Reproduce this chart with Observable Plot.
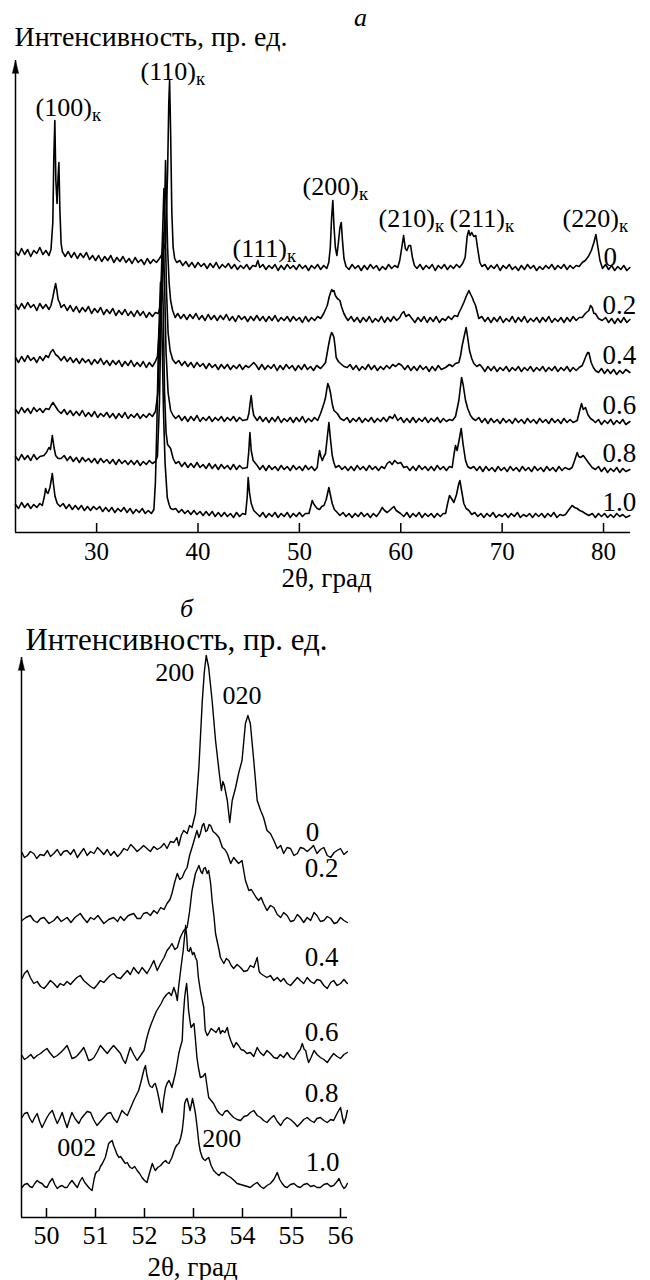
<!DOCTYPE html>
<html><head><meta charset="utf-8">
<script src="https://cdn.jsdelivr.net/npm/d3@7"></script>
<script src="https://cdn.jsdelivr.net/npm/@observablehq/plot@0.6"></script>
<style>
body{margin:0;background:#fff;}
#wrap{position:relative;width:650px;height:1280px;background:#fff;}
#pa{position:absolute;left:0;top:0;}
#pb{position:absolute;left:0;top:600px;}
svg, svg text, svg tspan{font-family:"Liberation Serif","Tinos","Times New Roman","Noto Serif","DejaVu Serif",serif !important;}
</style></head><body><div id="wrap"><div id="pa"></div><div id="pb"></div></div>
<script>
// ---------- shared ----------
const compositions = ["0", "0.2", "0.4", "0.6", "0.8", "1.0"];
const ticksA = [30, 40, 50, 60, 70, 80];
const ticksB = [50, 51, 52, 53, 54, 55, 56];

// ---------- panel a: 2θ (deg), intensity (arb. units) ----------
const xrdA_0 = [[22.0,281],[22.3,277],[22.6,284],[22.9,278],[23.2,283],[23.5,276],[23.8,282],[24.1,279],[24.4,285],[24.7,278],[25.0,282],[25.3,277],[25.5,283],[25.68,310],[25.78,375],[25.88,412],[25.98,352],[26.1,329],[26.2,356],[26.28,370],[26.38,322],[26.5,289],[26.62,281],[26.9,276],[27.2,281],[27.5,275],[27.8,280],[28.1,274],[28.4,279],[28.7,275],[29.0,280],[29.3,273],[29.6,277],[29.9,272],[30.2,277],[30.5,271],[30.8,276],[31.1,272],[31.4,277],[31.7,270],[32.0,275],[32.3,271],[32.6,276],[32.9,270],[33.2,274],[33.5,269],[33.8,275],[34.1,270],[34.4,273],[34.7,268],[35.0,274],[35.3,269],[35.6,273],[35.9,270],[36.2,274],[36.5,279],[36.8,290],[37.0,360],[37.12,430],[37.2,452],[37.3,400],[37.42,320],[37.55,285],[37.7,274],[37.9,270],[38.2,272],[38.5,267],[38.8,271],[39.1,266],[39.4,270],[39.7,265],[40.0,270],[40.3,266],[40.6,269],[40.9,264],[41.2,269],[41.5,265],[41.8,270],[42.1,264],[42.4,268],[42.7,265],[43.0,269],[43.3,264],[43.6,268],[43.9,263],[44.2,267],[44.5,264],[44.8,268],[45.1,263],[45.4,267],[45.7,266],[45.9,272],[46.1,265],[46.4,268],[46.7,263],[47.0,267],[47.3,264],[47.6,268],[47.9,262],[48.2,267],[48.5,263],[48.8,268],[49.1,264],[49.4,267],[49.7,263],[50.0,268],[50.3,264],[50.6,267],[50.9,262],[51.2,267],[51.5,264],[51.8,268],[52.1,263],[52.4,267],[52.7,264],[52.9,270],[53.05,285],[53.18,315],[53.3,332],[53.42,305],[53.55,285],[53.7,277],[53.85,290],[54.0,305],[54.13,310],[54.25,292],[54.4,274],[54.6,266],[54.9,263],[55.2,268],[55.5,264],[55.8,267],[56.1,262],[56.4,267],[56.7,263],[57.0,268],[57.3,264],[57.6,267],[57.9,262],[58.2,266],[58.5,263],[58.8,268],[59.1,264],[59.4,267],[59.7,265],[59.9,272],[60.1,285],[60.28,297],[60.45,284],[60.6,282],[60.8,287],[60.97,287],[61.15,275],[61.35,267],[61.6,264],[61.9,268],[62.2,263],[62.5,267],[62.8,264],[63.1,268],[63.4,262],[63.7,267],[64.0,264],[64.3,268],[64.6,263],[64.9,267],[65.2,264],[65.5,268],[65.8,265],[66.1,269],[66.35,275],[66.55,296],[66.7,302],[66.85,297],[67.0,300],[67.2,296],[67.4,297],[67.6,283],[67.8,270],[68.0,266],[68.3,268],[68.6,263],[68.9,267],[69.2,264],[69.5,268],[69.8,262],[70.1,267],[70.4,264],[70.7,268],[71.0,263],[71.3,266],[71.6,262],[71.9,267],[72.2,263],[72.5,268],[72.8,264],[73.1,267],[73.4,262],[73.7,266],[74.0,263],[74.3,267],[74.6,264],[74.9,268],[75.2,263],[75.5,267],[75.8,264],[76.1,268],[76.4,263],[76.7,267],[77.0,264],[77.3,267],[77.6,266],[77.9,270],[78.2,272],[78.5,276],[78.8,282],[79.05,290],[79.25,298],[79.45,285],[79.65,272],[79.9,264],[80.2,268],[80.5,263],[80.8,267],[81.1,262],[81.4,266],[81.7,263],[82.0,267],[82.3,262],[82.6,265]];

const xrdA_02 = [[22.0,228],[22.3,223],[22.6,229],[22.9,224],[23.2,230],[23.5,225],[23.8,228],[24.1,222],[24.4,229],[24.7,224],[25.0,228],[25.3,223],[25.5,227],[25.7,236],[25.85,244],[25.96,249],[26.08,242],[26.2,233],[26.35,230],[26.5,225],[26.8,228],[27.1,222],[27.4,227],[27.7,221],[28.0,226],[28.3,220],[28.6,225],[28.9,221],[29.2,226],[29.5,219],[29.8,224],[30.1,220],[30.4,225],[30.7,218],[31.0,223],[31.3,219],[31.6,224],[31.9,217],[32.2,222],[32.5,218],[32.8,223],[33.1,217],[33.4,221],[33.7,216],[34.0,222],[34.3,217],[34.6,221],[34.9,215],[35.2,220],[35.5,216],[35.8,220],[36.1,219],[36.4,232],[36.6,270],[36.72,330],[36.8,372],[36.9,330],[37.0,285],[37.15,250],[37.3,232],[37.5,222],[37.75,215],[38.0,219],[38.3,214],[38.6,218],[38.9,213],[39.2,218],[39.5,214],[39.8,219],[40.1,213],[40.4,217],[40.7,212],[41.0,218],[41.3,213],[41.6,217],[41.9,212],[42.2,217],[42.5,213],[42.8,218],[43.1,212],[43.4,216],[43.7,211],[44.0,217],[44.3,213],[44.6,216],[44.9,211],[45.2,216],[45.5,212],[45.8,217],[46.1,212],[46.4,216],[46.7,211],[47.0,216],[47.3,212],[47.6,217],[47.9,211],[48.2,215],[48.5,212],[48.8,216],[49.1,211],[49.4,216],[49.7,212],[50.0,215],[50.3,210],[50.6,216],[50.9,211],[51.2,215],[51.5,212],[51.8,216],[52.1,214],[52.4,219],[52.75,227],[52.95,236],[53.08,240],[53.2,243],[53.3,241],[53.41,242],[53.55,237],[53.74,234],[53.88,233],[54.0,232],[54.15,226],[54.39,219],[54.6,215],[54.8,212],[55.1,216],[55.4,211],[55.7,215],[56.0,210],[56.3,215],[56.6,211],[56.9,216],[57.2,210],[57.5,214],[57.8,211],[58.1,216],[58.4,210],[58.7,215],[59.0,211],[59.3,216],[59.6,212],[59.9,215],[60.1,219],[60.3,221],[60.5,216],[60.8,218],[61.1,214],[61.4,210],[61.7,215],[62.0,211],[62.3,216],[62.6,210],[62.9,215],[63.2,211],[63.5,216],[63.8,210],[64.1,214],[64.4,212],[64.7,216],[65.0,213],[65.3,217],[65.6,216],[65.75,220],[65.95,224],[66.22,230],[66.45,236],[66.72,242],[66.9,238],[67.05,235],[67.2,231],[67.38,227],[67.55,220],[67.7,214],[68.0,216],[68.3,211],[68.6,215],[68.9,210],[69.2,215],[69.5,211],[69.8,216],[70.1,210],[70.4,214],[70.7,211],[71.0,216],[71.3,210],[71.6,215],[71.9,211],[72.2,216],[72.5,210],[72.8,214],[73.1,211],[73.4,215],[73.7,210],[74.0,215],[74.3,211],[74.6,216],[74.9,210],[75.2,214],[75.5,211],[75.8,215],[76.1,210],[76.4,215],[76.7,211],[77.0,216],[77.3,212],[77.6,215],[77.9,215],[78.2,219],[78.55,222],[78.72,227],[78.88,225],[79.05,219],[79.2,219],[79.5,214],[79.87,212],[80.2,215],[80.5,210],[80.8,214],[81.1,209],[81.4,214],[81.7,210],[82.0,215],[82.3,210],[82.6,213]];

const xrdA_04 = [[22.0,175],[22.3,170],[22.6,176],[22.9,171],[23.2,177],[23.5,172],[23.8,175],[24.1,170],[24.4,176],[24.7,172],[25.0,177],[25.25,175],[25.45,180],[25.7,183],[25.95,178],[26.2,176],[26.5,172],[26.8,176],[27.1,171],[27.4,175],[27.7,170],[28.0,174],[28.3,169],[28.6,174],[28.9,170],[29.2,173],[29.5,168],[29.8,173],[30.1,169],[30.4,174],[30.7,168],[31.0,172],[31.3,167],[31.6,172],[31.9,168],[32.2,172],[32.5,166],[32.8,171],[33.1,167],[33.4,172],[33.7,166],[34.0,170],[34.3,166],[34.6,171],[34.9,165],[35.2,170],[35.5,166],[35.8,171],[36.0,176],[36.25,210],[36.45,280],[36.64,344],[36.78,300],[36.9,240],[37.05,200],[37.25,182],[37.5,173],[37.8,169],[38.1,172],[38.4,167],[38.7,171],[39.0,166],[39.3,170],[39.6,165],[39.9,170],[40.2,166],[40.5,169],[40.8,164],[41.1,169],[41.4,165],[41.7,168],[42.0,163],[42.3,168],[42.6,164],[42.9,168],[43.2,163],[43.5,167],[43.8,164],[44.1,168],[44.4,163],[44.7,167],[45.0,165],[45.3,168],[45.5,170],[45.75,167],[46.0,163],[46.3,168],[46.6,163],[46.9,167],[47.2,164],[47.5,168],[47.8,162],[48.1,167],[48.4,163],[48.7,168],[49.0,164],[49.3,167],[49.6,162],[49.9,167],[50.2,163],[50.5,168],[50.8,163],[51.1,166],[51.4,162],[51.7,167],[52.09,164],[52.35,167],[52.58,170],[52.75,180],[52.91,189],[53.05,196],[53.18,200],[53.3,198],[53.41,195],[53.52,186],[53.63,175],[53.85,171],[54.06,169],[54.4,166],[54.72,165],[55.0,168],[55.3,163],[55.6,167],[55.9,162],[56.2,166],[56.5,163],[56.8,168],[57.1,163],[57.4,167],[57.7,162],[58.0,166],[58.3,163],[58.6,167],[58.9,164],[59.2,168],[59.5,166],[59.8,169],[60.1,167],[60.4,163],[60.7,167],[61.0,162],[61.3,166],[61.6,162],[61.9,167],[62.2,163],[62.5,166],[62.8,161],[63.1,166],[63.4,162],[63.7,167],[64.0,163],[64.42,165],[64.8,168],[65.1,166],[65.4,169],[65.73,170],[65.9,177],[66.06,187],[66.25,196],[66.45,205],[66.6,195],[66.78,182],[67.0,174],[67.21,169],[67.5,166],[67.8,168],[68.04,165],[68.3,161],[68.6,166],[68.9,162],[69.2,166],[69.5,161],[69.8,165],[70.1,162],[70.4,166],[70.7,161],[71.0,165],[71.3,162],[71.6,166],[71.9,161],[72.2,165],[72.5,162],[72.8,166],[73.1,161],[73.4,165],[73.7,162],[74.0,166],[74.3,161],[74.6,165],[74.9,162],[75.2,166],[75.5,161],[75.8,165],[76.1,162],[76.4,166],[76.7,161],[77.0,165],[77.3,162],[77.6,165],[77.9,167],[78.1,172],[78.29,177],[78.45,180],[78.55,180],[78.78,170],[79.0,165],[79.2,162],[79.5,160],[79.8,164],[80.1,159],[80.4,163],[80.7,159],[81.0,163],[81.3,158],[81.6,162],[81.9,159],[82.2,163],[82.6,160]];

const xrdA_06 = [[22.0,123],[22.3,119],[22.6,125],[22.9,120],[23.2,124],[23.5,119],[23.8,125],[24.1,121],[24.4,124],[24.7,120],[25.0,124],[25.3,123],[25.5,127],[25.7,130],[25.95,126],[26.2,122],[26.5,119],[26.8,123],[27.1,118],[27.4,122],[27.7,117],[28.0,121],[28.3,117],[28.6,122],[28.9,116],[29.2,120],[29.5,116],[29.8,121],[30.1,115],[30.4,119],[30.7,116],[31.0,120],[31.3,115],[31.6,119],[31.9,114],[32.2,119],[32.5,115],[32.8,120],[33.1,114],[33.4,118],[33.7,115],[34.0,119],[34.3,114],[34.6,118],[34.9,115],[35.2,119],[35.5,116],[35.8,121],[36.05,140],[36.3,210],[36.55,300],[36.7,250],[36.85,180],[37.05,140],[37.3,122],[37.55,117],[37.8,114],[38.1,117],[38.4,112],[38.7,116],[39.0,111],[39.3,116],[39.6,112],[39.9,117],[40.2,111],[40.5,115],[40.8,112],[41.1,116],[41.4,111],[41.7,115],[42.0,112],[42.3,116],[42.6,111],[42.9,115],[43.2,112],[43.5,116],[43.8,111],[44.1,115],[44.4,112],[44.86,113],[45.02,119],[45.15,130],[45.25,137],[45.38,124],[45.5,117],[45.84,112],[46.1,116],[46.4,111],[46.7,115],[47.0,110],[47.3,115],[47.6,111],[47.9,116],[48.2,110],[48.5,114],[48.8,111],[49.1,115],[49.4,110],[49.7,115],[50.0,111],[50.3,116],[50.6,110],[50.9,114],[51.2,111],[51.5,115],[51.8,112],[52.09,119],[52.26,124],[52.45,130],[52.58,135],[52.7,143],[52.81,149],[52.95,145],[53.08,139],[53.25,128],[53.41,122],[53.74,119],[54.05,114],[54.39,112],[54.7,115],[55.0,110],[55.3,114],[55.6,111],[55.9,115],[56.2,110],[56.5,114],[56.8,111],[57.1,115],[57.4,110],[57.7,114],[58.0,111],[58.3,115],[58.6,111],[58.9,116],[59.2,114],[59.4,118],[59.7,112],[60.0,115],[60.3,110],[60.6,114],[60.9,110],[61.2,115],[61.5,110],[61.8,114],[62.1,111],[62.4,115],[62.7,110],[63.0,114],[63.3,111],[63.6,115],[63.9,110],[64.2,114],[64.5,111],[64.8,113],[65.1,112],[65.4,116],[65.73,132],[65.88,145],[66.0,155],[66.15,148],[66.39,132],[66.6,124],[66.88,117],[67.1,114],[67.38,112],[67.7,115],[68.0,110],[68.3,114],[68.6,109],[68.9,114],[69.2,110],[69.5,113],[69.8,109],[70.1,114],[70.4,110],[70.7,113],[71.0,109],[71.3,114],[71.6,110],[71.9,113],[72.2,109],[72.5,114],[72.8,110],[73.1,113],[73.4,109],[73.7,114],[74.0,110],[74.3,113],[74.6,109],[74.9,114],[75.2,110],[75.5,113],[75.8,109],[76.1,114],[76.4,110],[76.7,113],[77.0,110],[77.4,112],[77.6,120],[77.83,129],[78.0,123],[78.22,125],[78.45,118],[78.72,114],[79.0,112],[79.2,110],[79.5,113],[79.8,108],[80.1,112],[80.4,109],[80.7,113],[81.0,108],[81.3,112],[81.6,109],[81.9,113],[82.2,108],[82.6,111]];

const xrdA_08 = [[22.0,76],[22.3,72],[22.6,78],[22.9,73],[23.2,77],[23.5,72],[23.8,78],[24.1,73],[24.4,76],[24.8,77],[25.05,80],[25.3,85],[25.45,83],[25.63,97],[25.8,85],[25.96,77],[26.2,74],[26.5,74],[26.8,77],[27.1,72],[27.4,76],[27.7,71],[28.0,75],[28.3,70],[28.6,75],[28.9,71],[29.2,74],[29.5,70],[29.8,74],[30.1,69],[30.4,74],[30.7,70],[31.0,73],[31.3,69],[31.6,73],[31.9,68],[32.2,73],[32.5,69],[32.8,72],[33.1,68],[33.4,72],[33.7,68],[34.0,72],[34.3,67],[34.6,71],[34.9,68],[35.2,72],[35.5,69],[35.8,71],[36.0,76],[36.2,130],[36.35,215],[36.45,270],[36.58,220],[36.7,140],[36.85,100],[37.0,88],[37.3,84],[37.55,74],[37.8,69],[38.1,71],[38.4,66],[38.7,70],[39.0,65],[39.3,69],[39.6,65],[39.9,70],[40.2,65],[40.5,68],[40.8,64],[41.1,69],[41.4,64],[41.7,68],[42.0,63],[42.3,68],[42.6,64],[42.9,67],[43.2,63],[43.5,68],[43.8,63],[44.1,67],[44.4,64],[44.86,65],[45.0,80],[45.12,100],[45.25,82],[45.44,72],[45.84,67],[46.1,63],[46.4,67],[46.7,62],[47.0,67],[47.3,63],[47.6,66],[47.9,62],[48.2,67],[48.5,63],[48.8,66],[49.1,62],[49.4,67],[49.7,63],[50.0,66],[50.3,62],[50.6,67],[50.9,63],[51.2,66],[51.5,62],[51.76,65],[51.88,75],[51.99,82],[52.12,76],[52.26,72],[52.42,76],[52.58,79],[52.75,95],[52.91,110],[53.05,95],[53.24,77],[53.4,70],[53.57,65],[53.9,67],[54.2,63],[54.5,66],[54.8,62],[55.1,66],[55.4,62],[55.7,67],[56.0,63],[56.3,66],[56.6,62],[56.9,67],[57.2,63],[57.5,66],[57.8,62],[58.1,66],[58.4,64],[58.66,69],[58.9,71],[59.15,68],[59.4,72],[59.7,69],[60.0,70],[60.3,65],[60.6,66],[60.9,62],[61.2,66],[61.5,62],[61.8,67],[62.1,63],[62.4,66],[62.7,62],[63.0,66],[63.3,62],[63.6,67],[63.9,63],[64.2,66],[64.5,62],[64.8,66],[65.07,65],[65.25,78],[65.4,87],[65.56,82],[65.75,92],[65.96,104],[66.15,88],[66.39,72],[66.6,66],[66.88,64],[67.2,66],[67.5,62],[67.8,66],[68.1,61],[68.4,66],[68.7,62],[69.0,65],[69.3,61],[69.6,66],[69.9,62],[70.2,65],[70.5,61],[70.8,66],[71.1,62],[71.4,65],[71.7,61],[72.0,66],[72.3,62],[72.6,65],[72.9,61],[73.2,66],[73.5,62],[73.8,65],[74.1,61],[74.4,66],[74.7,62],[75.0,65],[75.3,61],[75.6,66],[75.9,62],[76.2,65],[76.6,63],[76.9,65],[77.15,72],[77.4,80],[77.55,76],[77.73,75],[78.0,77],[78.22,74],[78.5,70],[78.88,65],[79.2,63],[79.5,66],[79.8,61],[80.1,65],[80.4,60],[80.7,64],[81.0,61],[81.3,65],[81.6,60],[81.9,64],[82.2,61],[82.6,63]];

const xrdA_10 = [[22.0,28],[22.3,24],[22.6,30],[22.9,25],[23.2,29],[23.5,24],[23.8,28],[24.1,25],[24.4,29],[24.64,27],[24.85,36],[24.97,44],[25.1,40],[25.2,39],[25.4,45],[25.55,54],[25.63,59],[25.75,48],[25.9,36],[26.12,29],[26.4,26],[26.7,29],[27.0,24],[27.3,28],[27.6,23],[27.9,27],[28.2,23],[28.5,27],[28.8,22],[29.1,26],[29.4,22],[29.7,26],[30.0,23],[30.3,26],[30.6,21],[30.9,25],[31.2,21],[31.5,25],[31.8,20],[32.1,24],[32.4,21],[32.7,25],[33.0,20],[33.3,24],[33.6,19],[33.9,23],[34.2,20],[34.5,24],[34.8,19],[35.1,22],[35.4,19],[35.65,23],[35.8,50],[35.95,110],[36.1,190],[36.3,250],[36.45,200],[36.6,120],[36.75,70],[36.97,35],[37.15,28],[37.3,24],[37.55,23],[37.8,24],[38.1,20],[38.4,23],[38.7,19],[39.0,22],[39.3,18],[39.6,22],[39.9,18],[40.2,21],[40.5,17],[40.8,21],[41.1,17],[41.4,21],[41.7,16],[42.0,20],[42.3,16],[42.6,20],[42.9,16],[43.2,19],[43.5,15],[43.8,20],[44.1,16],[44.4,19],[44.69,18],[44.85,35],[44.95,55],[45.08,40],[45.25,29],[45.5,22],[45.8,19],[46.1,16],[46.4,20],[46.7,15],[47.0,19],[47.3,16],[47.6,20],[47.9,15],[48.2,19],[48.5,16],[48.8,20],[49.1,15],[49.4,19],[49.7,16],[50.0,20],[50.3,16],[50.6,19],[50.94,19],[51.1,25],[51.27,32],[51.45,28],[51.6,26],[51.76,24],[52.0,23],[52.2,26],[52.42,27],[52.65,33],[52.8,40],[52.91,45],[53.05,38],[53.24,29],[53.45,23],[53.74,20],[54.0,17],[54.3,20],[54.6,16],[54.9,19],[55.2,15],[55.5,19],[55.8,16],[56.1,20],[56.4,16],[56.7,19],[57.0,15],[57.3,19],[57.6,16],[57.9,20],[58.17,25],[58.4,22],[58.66,20],[58.9,22],[59.1,24],[59.32,26],[59.55,22],[59.98,19],[60.3,16],[60.6,20],[60.9,15],[61.2,19],[61.5,16],[61.8,20],[62.1,15],[62.4,19],[62.7,16],[63.0,19],[63.3,15],[63.6,19],[63.9,16],[64.2,19],[64.42,19],[64.6,28],[64.81,37],[65.0,34],[65.24,30],[65.5,38],[65.7,48],[65.83,52],[66.0,42],[66.22,29],[66.45,24],[66.72,22],[67.0,18],[67.3,20],[67.6,16],[67.9,19],[68.2,15],[68.5,19],[68.8,16],[69.1,20],[69.4,15],[69.7,18],[70.0,16],[70.3,19],[70.6,15],[70.9,19],[71.2,16],[71.5,20],[71.8,15],[72.1,18],[72.4,16],[72.7,19],[73.0,15],[73.3,19],[73.6,16],[73.9,19],[74.2,15],[74.5,19],[74.8,16],[75.1,20],[75.4,15],[75.7,18],[76.0,17],[76.25,18],[76.6,23],[76.9,27],[77.15,25],[77.4,24],[77.65,22],[77.9,21],[78.2,19],[78.55,17],[78.9,19],[79.2,15],[79.5,19],[79.8,16],[80.1,19],[80.4,15],[80.7,18],[81.0,15],[81.3,19],[81.6,16],[81.9,18],[82.2,15],[82.6,17]];

// ---------- panel b ----------
const xrdB_0 = [[49.5,365],[49.55,360],[49.61,362],[49.67,366],[49.74,364],[49.8,359],[49.87,363],[49.95,362],[50.02,367],[50.08,361],[50.15,364],[50.22,368],[50.29,362],[50.35,366],[50.42,367],[50.49,363],[50.56,368],[50.63,360],[50.7,365],[50.76,369],[50.83,362],[50.9,366],[50.97,364],[51.04,370],[51.1,367],[51.17,363],[51.24,368],[51.31,362],[51.38,366],[51.45,361],[51.51,364],[51.58,369],[51.65,367],[51.72,373],[51.78,370],[51.85,366],[51.92,369],[51.98,372],[52.05,369],[52.12,366],[52.19,371],[52.26,368],[52.33,370],[52.4,374],[52.46,369],[52.53,376],[52.6,375],[52.66,380],[52.7,372],[52.75,382],[52.8,387],[52.87,384],[52.92,392],[52.97,390],[53.04,404],[53.11,450],[53.18,517],[53.22,545],[53.26,562],[53.31,550],[53.38,517],[53.45,477],[53.52,447],[53.57,427],[53.6,436],[53.63,432],[53.69,417],[53.74,395],[53.79,417],[53.86,430],[53.92,444],[53.99,457],[54.06,494],[54.11,502],[54.16,494],[54.23,457],[54.3,417],[54.37,407],[54.43,400],[54.5,387],[54.57,384],[54.64,377],[54.71,369],[54.78,372],[54.84,364],[54.91,370],[54.98,369],[55.05,362],[55.12,364],[55.18,370],[55.25,369],[55.32,366],[55.39,369],[55.45,372],[55.52,364],[55.59,368],[55.66,370],[55.73,362],[55.8,360],[55.87,365],[55.93,367],[56.0,369],[56.07,363],[56.14,366]];

const xrdB_02 = [[49.5,297],[49.58,300],[49.67,302],[49.74,297],[49.81,295],[49.88,299],[49.95,300],[50.05,294],[50.15,297],[50.22,301],[50.3,296],[50.42,300],[50.5,295],[50.58,300],[50.69,304],[50.76,299],[50.83,295],[50.9,300],[50.97,298],[51.05,302],[51.17,294],[51.27,298],[51.37,300],[51.45,296],[51.51,301],[51.58,297],[51.67,302],[51.78,304],[51.85,299],[51.92,299],[51.98,304],[52.05,305],[52.12,302],[52.19,307],[52.26,304],[52.33,310],[52.4,308],[52.46,314],[52.52,318],[52.56,324],[52.62,336],[52.67,344],[52.72,338],[52.77,340],[52.82,346],[52.87,350],[52.92,362],[52.97,370],[53.03,380],[53.07,387],[53.11,380],[53.14,384],[53.18,392],[53.21,394],[53.25,386],[53.28,387],[53.32,393],[53.35,392],[53.4,386],[53.45,384],[53.52,380],[53.59,370],[53.64,368],[53.69,364],[53.76,354],[53.82,360],[53.87,357],[53.92,354],[53.99,357],[54.06,337],[54.13,327],[54.18,328],[54.23,324],[54.28,320],[54.33,317],[54.38,320],[54.43,314],[54.5,307],[54.57,312],[54.64,310],[54.71,303],[54.78,300],[54.84,305],[54.91,302],[54.98,296],[55.05,297],[55.12,303],[55.18,300],[55.25,295],[55.32,300],[55.39,297],[55.46,305],[55.52,302],[55.59,296],[55.66,297],[55.73,301],[55.8,299],[55.87,294],[55.93,295],[56.0,300],[56.07,297],[56.14,295]];

const xrdB_04 = [[49.5,239],[49.55,244],[49.61,247],[49.67,240],[49.74,234],[49.81,236],[49.88,231],[49.95,229],[50.02,233],[50.08,237],[50.15,234],[50.22,230],[50.28,234],[50.35,232],[50.42,236],[50.49,233],[50.56,237],[50.62,240],[50.69,242],[50.76,237],[50.83,234],[50.9,231],[50.97,229],[51.04,233],[51.1,237],[51.17,235],[51.24,239],[51.3,242],[51.37,244],[51.44,240],[51.51,239],[51.58,243],[51.65,247],[51.71,243],[51.78,250],[51.84,246],[51.88,244],[51.95,250],[52.0,247],[52.05,244],[52.12,250],[52.19,257],[52.26,247],[52.33,254],[52.4,260],[52.46,267],[52.51,270],[52.56,274],[52.62,268],[52.67,270],[52.73,280],[52.8,287],[52.87,290],[52.92,306],[52.97,327],[53.04,344],[53.11,352],[53.15,346],[53.18,344],[53.21,349],[53.24,350],[53.28,344],[53.31,347],[53.35,334],[53.38,317],[53.42,300],[53.45,284],[53.48,277],[53.52,268],[53.55,260],[53.62,254],[53.67,259],[53.72,257],[53.77,252],[53.82,249],[53.89,253],[53.96,250],[54.03,246],[54.1,247],[54.16,252],[54.23,250],[54.3,260],[54.34,246],[54.37,244],[54.43,242],[54.5,240],[54.57,242],[54.64,237],[54.71,240],[54.78,236],[54.84,239],[54.91,234],[54.98,232],[55.05,236],[55.12,240],[55.18,237],[55.25,234],[55.32,240],[55.39,236],[55.46,234],[55.52,238],[55.59,237],[55.66,232],[55.73,229],[55.8,235],[55.86,237],[55.93,232],[56.0,234],[56.07,238],[56.14,234]];

const xrdB_06 = [[49.5,162],[49.55,158],[49.61,160],[49.68,163],[49.74,159],[49.81,162],[49.88,164],[49.95,167],[50.01,169],[50.08,164],[50.15,160],[50.22,162],[50.29,165],[50.35,168],[50.42,172],[50.47,166],[50.52,159],[50.58,160],[50.63,162],[50.7,166],[50.76,170],[50.81,164],[50.86,157],[50.92,158],[50.97,160],[51.04,166],[51.1,172],[51.17,168],[51.24,164],[51.3,168],[51.37,172],[51.44,168],[51.51,164],[51.56,158],[51.61,154],[51.66,162],[51.71,170],[51.78,163],[51.85,157],[51.92,162],[51.99,167],[52.04,178],[52.09,187],[52.14,194],[52.19,200],[52.24,206],[52.29,210],[52.34,214],[52.39,219],[52.45,223],[52.5,225],[52.55,222],[52.6,230],[52.64,224],[52.67,217],[52.7,232],[52.73,244],[52.76,256],[52.79,267],[52.82,282],[52.84,292],[52.86,282],[52.88,267],[52.91,266],[52.94,270],[52.98,263],[53.01,265],[53.04,260],[53.07,257],[53.1,240],[53.14,227],[53.18,217],[53.21,210],[53.24,187],[53.28,182],[53.31,184],[53.36,189],[53.41,187],[53.46,185],[53.52,190],[53.55,184],[53.59,187],[53.64,185],[53.69,190],[53.72,183],[53.76,177],[53.82,170],[53.87,175],[53.92,172],[53.97,168],[54.03,167],[54.09,164],[54.16,165],[54.23,161],[54.3,170],[54.36,165],[54.43,162],[54.5,167],[54.57,164],[54.64,160],[54.71,159],[54.77,163],[54.84,160],[54.91,165],[54.98,160],[55.05,158],[55.12,164],[55.18,168],[55.22,174],[55.26,168],[55.29,167],[55.32,160],[55.35,155],[55.4,160],[55.46,167],[55.52,163],[55.59,160],[55.66,158],[55.73,155],[55.8,160],[55.86,164],[55.93,161],[56.0,159],[56.07,163],[56.14,165]];

const xrdB_08 = [[49.5,100],[49.55,104],[49.61,105],[49.66,99],[49.71,95],[49.76,100],[49.81,104],[49.86,96],[49.91,90],[49.96,95],[50.01,100],[50.06,104],[50.12,107],[50.17,100],[50.22,94],[50.27,99],[50.32,105],[50.37,97],[50.42,90],[50.47,98],[50.52,105],[50.58,99],[50.66,94],[50.71,99],[50.76,102],[50.83,106],[50.9,105],[50.96,98],[51.03,92],[51.1,96],[51.17,100],[51.24,104],[51.31,105],[51.37,99],[51.44,95],[51.49,101],[51.54,107],[51.6,104],[51.65,102],[51.72,110],[51.78,117],[51.83,122],[51.88,127],[51.92,134],[51.95,140],[51.99,148],[52.02,152],[52.05,142],[52.09,134],[52.12,131],[52.16,130],[52.19,133],[52.22,134],[52.26,127],[52.29,120],[52.33,110],[52.36,105],[52.39,118],[52.43,130],[52.46,134],[52.5,137],[52.53,134],[52.56,130],[52.6,138],[52.63,144],[52.67,155],[52.7,164],[52.73,170],[52.77,177],[52.79,200],[52.82,220],[52.84,228],[52.86,234],[52.88,222],[52.9,207],[52.93,196],[52.95,190],[52.98,192],[53.01,194],[53.04,178],[53.07,160],[53.1,150],[53.14,140],[53.19,141],[53.24,144],[53.28,130],[53.31,120],[53.36,117],[53.41,114],[53.45,110],[53.48,107],[53.53,104],[53.59,102],[53.64,106],[53.69,107],[53.76,103],[53.82,100],[53.89,98],[53.96,97],[54.03,101],[54.1,102],[54.16,105],[54.23,107],[54.3,102],[54.37,100],[54.43,97],[54.5,95],[54.57,99],[54.64,102],[54.71,96],[54.78,92],[54.84,97],[54.91,100],[54.98,98],[55.05,95],[55.12,91],[55.18,94],[55.25,98],[55.32,100],[55.39,97],[55.46,95],[55.52,99],[55.59,100],[55.66,97],[55.73,95],[55.8,98],[55.86,97],[55.93,104],[56.0,110],[56.04,100],[56.07,94],[56.11,100],[56.14,107]];

const xrdB_10 = [[49.5,30],[49.55,33],[49.61,34],[49.66,31],[49.71,30],[49.76,34],[49.81,37],[49.86,35],[49.91,34],[49.96,31],[50.01,30],[50.06,35],[50.12,39],[50.17,33],[50.22,29],[50.27,31],[50.32,32],[50.37,30],[50.42,30],[50.47,34],[50.52,37],[50.58,33],[50.63,30],[50.68,36],[50.73,40],[50.78,35],[50.83,32],[50.88,29],[50.93,27],[50.97,38],[51.0,44],[51.03,46],[51.07,47],[51.1,51],[51.14,54],[51.17,57],[51.2,60],[51.24,68],[51.27,74],[51.31,76],[51.34,77],[51.37,72],[51.41,67],[51.44,63],[51.48,60],[51.51,61],[51.54,59],[51.58,56],[51.61,54],[51.65,55],[51.68,52],[51.71,50],[51.75,49],[51.8,51],[51.85,47],[51.9,44],[51.95,40],[52.0,37],[52.05,35],[52.1,44],[52.16,54],[52.19,50],[52.22,47],[52.27,50],[52.33,52],[52.38,55],[52.43,57],[52.46,55],[52.5,54],[52.53,57],[52.56,60],[52.6,66],[52.63,70],[52.67,73],[52.7,74],[52.74,80],[52.77,87],[52.8,100],[52.82,114],[52.85,118],[52.87,119],[52.9,113],[52.93,107],[52.96,114],[52.98,119],[53.01,112],[53.04,104],[53.08,88],[53.11,74],[53.14,66],[53.18,60],[53.21,58],[53.24,57],[53.28,59],[53.31,60],[53.36,52],[53.41,47],[53.47,44],[53.52,42],[53.57,45],[53.62,45],[53.69,42],[53.76,40],[53.83,37],[53.89,34],[53.96,33],[54.03,32],[54.1,31],[54.16,30],[54.23,33],[54.3,35],[54.37,31],[54.43,29],[54.5,32],[54.57,34],[54.64,38],[54.68,42],[54.71,45],[54.76,38],[54.81,34],[54.86,31],[54.91,30],[54.98,33],[55.05,34],[55.12,31],[55.18,30],[55.25,33],[55.32,34],[55.39,31],[55.46,32],[55.52,30],[55.59,30],[55.66,33],[55.73,34],[55.8,31],[55.86,32],[55.93,36],[55.97,39],[56.02,33],[56.07,29],[56.11,31],[56.14,34]];

// ---------- annotations (data coordinates: 2θ, intensity) ----------
const peakLabelsA = ["(100)к", "(110)к", "(111)к", "(200)к", "(210)к", "(211)к", "(220)к"];
const peakLabelXA = [23.98, 34.34, 43.41, 50.32, 57.81, 64.81, 75.96];
const peakLabelYA = [425, 461, 284, 346, 314, 314, 314];
const compLabelXA = [80.0, 79.9, 79.9, 79.9, 79.9, 79.9];
const compLabelYA = [275, 227, 177, 127, 79, 30];

const peakLabelsB = ["200", "020", "002", "200"];
const peakLabelXB = [52.22, 53.59, 50.22, 53.18];
const peakLabelYB = [545, 522, 70, 79];
const compLabelXB = [55.29, 55.27, 55.27, 55.27, 55.27, 55.29];
const compLabelYB = [385, 349, 260, 185, 124, 55];

const yTitle = "Интенсивность, пр. ед.";
const xTitle = "2θ, град";

// ---------- build tables ----------
const tracesA = [xrdA_0, xrdA_02, xrdA_04, xrdA_06, xrdA_08, xrdA_10];
const tracesB = [xrdB_0, xrdB_02, xrdB_04, xrdB_06, xrdB_08, xrdB_10];
const rowsA = tracesA.flatMap((t, i) => t.map(([x, v]) => ({comp: compositions[i], x, v})));
const rowsB = tracesB.flatMap((t, i) => t.map(([x, v]) => ({comp: compositions[i], x, v})));
const peaksA = peakLabelsA.map((label, i) => ({label, x: peakLabelXA[i], y: peakLabelYA[i]}));
const compsA = compositions.map((label, i) => ({label, x: compLabelXA[i], y: compLabelYA[i]}));
const peaksB = peakLabelsB.map((label, i) => ({label, x: peakLabelXB[i], y: peakLabelYB[i]}));
const compsB = compositions.map((label, i) => ({label, x: compLabelXB[i], y: compLabelYB[i]}));

const FONT = "'Liberation Serif', Tinos, 'Times New Roman', 'Noto Serif', 'DejaVu Serif', serif";
const TICK = 9;

function panel({rows, peaks, comps, xDomain, yMax, ticks, width, height, mt, mb, ml, mr, tickPad, tickSize, letter, letterX, letterY, titleX, titleY, titleSize, xLabelX, xLabelY, xLabelSize, peakSize, compSize, lineW}) {
  const innerH = height - mt - mb;
  const svg = Plot.plot({
    width, height, marginTop: mt, marginBottom: mb, marginLeft: ml, marginRight: mr,
    x: {domain: xDomain, label: null},
    y: {domain: [0, yMax], axis: null, label: null},
    style: {fontFamily: FONT, fontSize: "25px", color: "black", background: "white", overflow: "visible"},
    marks: [
      Plot.ruleY([0], {stroke: "black", strokeWidth: 1.5}),
      Plot.ruleX([xDomain[0]], {stroke: "black", strokeWidth: 1.5}),
      Plot.vector([0], {frameAnchor: "top-left", anchor: "end", length: 13, shape: "spike", r: 3.2, fill: "black", stroke: "black", strokeWidth: 0.5}),
      Plot.ruleX(ticks, {stroke: "black", strokeWidth: 1.5, insetTop: innerH - TICK}),
      Plot.axisX(ticks, {tickSize: 0, tickPadding: tickPad, fontSize: tickSize, fontFamily: FONT, label: null, tickFormat: d => String(d)}),
      Plot.line(rows, {x: "x", y: "v", z: "comp", stroke: "black", strokeWidth: lineW, strokeLinejoin: "round"}),
      Plot.text(peaks, {x: "x", y: "y", text: "label", textAnchor: "start", lineAnchor: "middle", fontSize: peakSize, fontFamily: FONT, fill: "black"}),
      Plot.text(comps, {x: "x", y: "y", text: "label", textAnchor: "start", lineAnchor: "middle", fontSize: compSize, fontFamily: FONT, fill: "black"}),
      Plot.text([letter], {x: letterX, y: letterY, text: d => d, textAnchor: "middle", lineAnchor: "middle", fontSize: 26, fontFamily: FONT, fontStyle: "italic", fill: "black"}),
      Plot.text([yTitle], {x: titleX, y: titleY, text: d => d, textAnchor: "start", lineAnchor: "middle", fontSize: titleSize, fontFamily: FONT, fill: "black"}),
      Plot.text([xTitle], {x: xLabelX, y: xLabelY, text: d => d, textAnchor: "middle", lineAnchor: "middle", fontSize: xLabelSize, fontFamily: FONT, fill: "black"})
    ]
  });
  d3.select(svg).attr("font-family", FONT);
  // subscript "к" in peak labels
  d3.select(svg).selectAll("text").each(function() {
    if (this.childElementCount) return;
    const m = /^(\(\d+\))к$/.exec(this.textContent);
    if (m) {
      this.textContent = m[1];
      const ts = document.createElementNS("http://www.w3.org/2000/svg", "tspan");
      ts.setAttribute("dy", "0.28em");
      ts.setAttribute("font-size", "0.72em");
      ts.textContent = "к";
      this.appendChild(ts);
    }
  });
  return svg;
}

document.getElementById("pa").appendChild(panel({
  rows: rowsA, peaks: peaksA, comps: compsA,
  xDomain: [22.0, 82.66], yMax: 472, ticks: ticksA,
  width: 650, height: 600, mt: 60, mb: 68, ml: 15, mr: 20, tickPad: 10, tickSize: 25,
  letter: "а", letterX: 56.04, letterY: 515,
  titleX: 21.9, titleY: 495, titleSize: 28,
  xLabelX: 52.68, xLabelY: -46, xLabelSize: 27, peakSize: 26, compSize: 27, lineW: 1.6
}));

document.getElementById("pb").appendChild(panel({
  rows: rowsB, peaks: peaksB, comps: compsB,
  xDomain: [49.49, 56.143], yMax: 560, ticks: ticksB,
  width: 360, height: 680, mt: 57, mb: 63, ml: 21, mr: 13, tickPad: 8, tickSize: 26,
  letter: "б", letterX: 52.86, letterY: 609,
  titleX: 49.57, titleY: 577, titleSize: 31,
  xLabelX: 52.98, xLabelY: -50, xLabelSize: 27, peakSize: 26, compSize: 27, lineW: 1.4
}));
</script>
</body></html>
